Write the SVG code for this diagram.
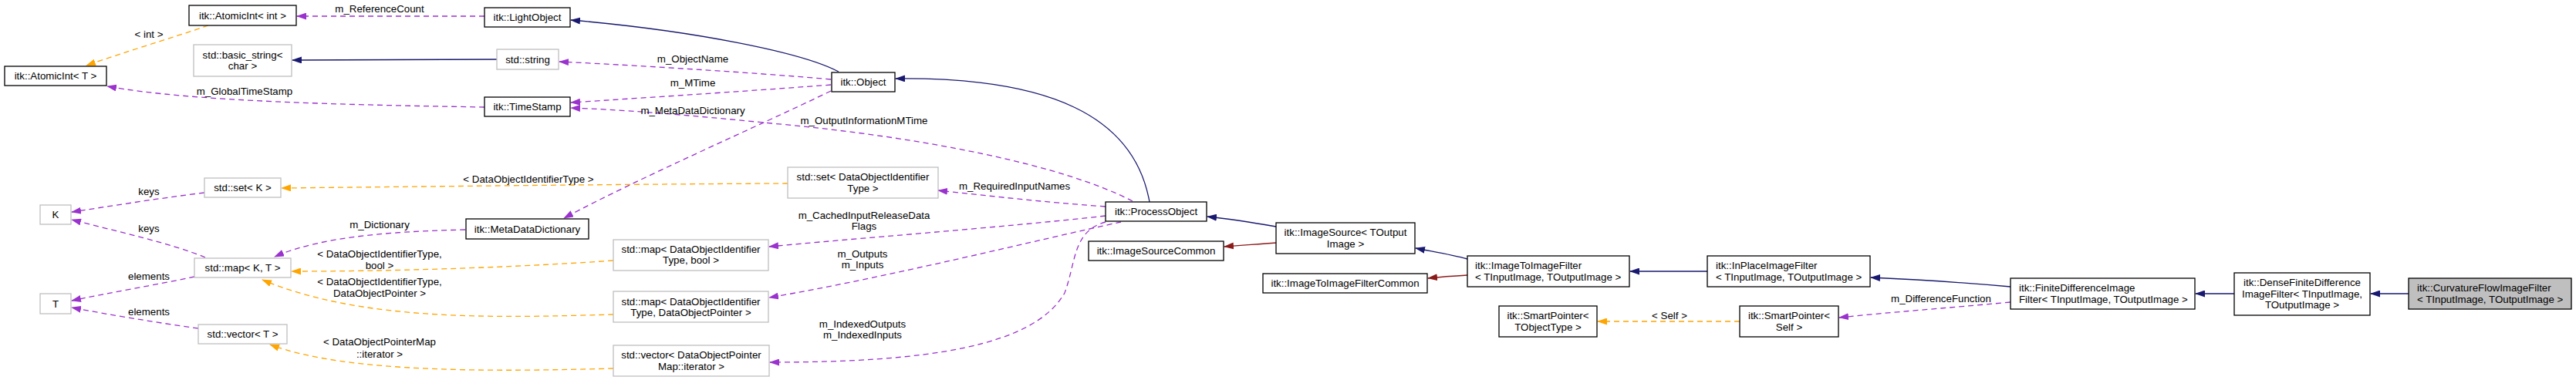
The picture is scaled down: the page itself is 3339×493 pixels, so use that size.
<svg xmlns="http://www.w3.org/2000/svg" width="3339" height="493" viewBox="0 0 3339 493">
<style>
text{font-family:"Liberation Sans",Arial,Helvetica,sans-serif;font-size:13.3px;fill:#000}
.m{text-anchor:middle}
.s{text-anchor:start}
.n{fill:#fff;stroke:#000;stroke-width:1.3}
.g{fill:#fff;stroke:#bfbfbf;stroke-width:1.3}
.sel{fill:#bfbfbf;stroke:#000;stroke-width:1.3}
.inh{fill:none;stroke:#191970;stroke-width:1.3;marker-end:url(#aInh)}
.prot{fill:none;stroke:#8b1a1a;stroke-width:1.3;marker-end:url(#aProt)}
.use{fill:none;stroke:#9a32cd;stroke-width:1.3;stroke-dasharray:7,5;marker-end:url(#aUse)}
.tpl{fill:none;stroke:#ffa500;stroke-width:1.3;stroke-dasharray:7,5;marker-end:url(#aTpl)}
</style>
<defs>
<marker id="aInh" viewBox="0 0 13 9" refX="12" refY="4.5" markerWidth="13" markerHeight="9" markerUnits="userSpaceOnUse" orient="auto"><path d="M0,0 L13,4.5 L0,9 z" fill="#191970"/></marker>
<marker id="aProt" viewBox="0 0 13 9" refX="12" refY="4.5" markerWidth="13" markerHeight="9" markerUnits="userSpaceOnUse" orient="auto"><path d="M0,0 L13,4.5 L0,9 z" fill="#8b1a1a"/></marker>
<marker id="aUse" viewBox="0 0 13 9" refX="12" refY="4.5" markerWidth="13" markerHeight="9" markerUnits="userSpaceOnUse" orient="auto"><path d="M0,0 L13,4.5 L0,9 z" fill="#9a32cd"/></marker>
<marker id="aTpl" viewBox="0 0 13 9" refX="12" refY="4.5" markerWidth="13" markerHeight="9" markerUnits="userSpaceOnUse" orient="auto"><path d="M0,0 L13,4.5 L0,9 z" fill="#ffa500"/></marker>
</defs>
<rect width="3339" height="493" fill="#fff"/>

<g id="connectors">
<path class="tpl" d="M270,33 C220,50 160,68 112,85"/>
<text class="m" x="193" y="49">&lt; int &gt;</text>
<path class="use" d="M628,21 L385,21"/>
<text class="m" x="492" y="16">m_ReferenceCount</text>
<path class="inh" d="M1087,93 C1040,68 900,40 740,26"/>
<path class="inh" d="M644,77 L379,78"/>
<path class="use" d="M628,139 C450,136 250,132 139,112"/>
<text class="m" x="317" y="123">m_GlobalTimeStamp</text>
<path class="use" d="M1077,103 C1000,96 850,86 725,80"/>
<text class="m" x="898" y="81">m_ObjectName</text>
<path class="use" d="M1077,110 C1000,116 850,126 740,133"/>
<text class="m" x="898" y="112">m_MTime</text>
<path class="use" d="M1468,261 C1380,215 1200,178 1000,160 C880,148 800,142 740,140"/>
<text class="m" x="1120" y="161">m_OutputInformationMTime</text>
<path class="use" d="M1077,118 C980,165 830,230 731,283"/>
<text class="m" x="898" y="148">m_MetaDataDictionary</text>
<path class="inh" d="M1490,262 C1470,150 1360,100 1161,102"/>
<path class="use" d="M603,298 C520,300 420,305 356,333"/>
<text class="m" x="492" y="296">m_Dictionary</text>
<path class="use" d="M265,250 C200,258 140,268 93,275"/>
<text class="m" x="193" y="253">keys</text>
<path class="use" d="M266,334 C220,315 150,300 93,285"/>
<text class="m" x="193" y="301">keys</text>
<path class="use" d="M252,359 C200,370 140,380 93,390"/>
<text class="m" x="193" y="363">elements</text>
<path class="use" d="M257,426 C200,418 140,408 93,399"/>
<text class="m" x="193" y="409">elements</text>
<path class="tpl" d="M1021,238 C800,239 550,242 365,244"/>
<text class="m" x="685" y="237">&lt; DataObjectIdentifierType &gt;</text>
<path class="use" d="M1433,268 C1350,262 1290,255 1216,247"/>
<text class="m" x="1315" y="246">m_RequiredInputNames</text>
<path class="use" d="M1433,280 C1300,295 1100,310 997,320"/>
<text class="m" x="1120" y="284">m_CachedInputReleaseData</text>
<text class="m" x="1120" y="298">Flags</text>
<path class="use" d="M1453,288 C1350,310 1150,360 997,386"/>
<text class="m" x="1118" y="334">m_Outputs</text>
<text class="m" x="1118" y="348">m_Inputs</text>
<path class="use" d="M1433,288 C1390,300 1395,340 1380,380 C1340,450 1200,470 998,470"/>
<text class="m" x="1118" y="425">m_IndexedOutputs</text>
<text class="m" x="1118" y="439">m_IndexedInputs</text>
<path class="tpl" d="M795,338 C650,348 500,352 378,352"/>
<text class="m" x="492" y="334">&lt; DataObjectIdentifierType,</text>
<text class="m" x="492" y="349">bool &gt;</text>
<path class="tpl" d="M795,408 C650,412 470,418 340,363"/>
<text class="m" x="492" y="370">&lt; DataObjectIdentifierType,</text>
<text class="m" x="492" y="385">DataObjectPointer &gt;</text>
<path class="tpl" d="M795,478 C650,482 450,485 350,447"/>
<text class="m" x="492" y="448">&lt; DataObjectPointerMap</text>
<text class="m" x="492" y="464">::iterator &gt;</text>
<path class="inh" d="M1654,294 C1620,288 1595,284 1565,281"/>
<path class="prot" d="M1654,315 C1630,317 1610,318 1587,320"/>
<path class="inh" d="M1902,336 C1880,330 1860,327 1835,322"/>
<path class="prot" d="M1902,357 C1885,358 1870,359 1851,361"/>
<path class="inh" d="M2213,352 L2113,352"/>
<path class="inh" d="M2606,372 C2540,366 2470,362 2425,360"/>
<path class="use" d="M2606,392 C2520,400 2450,405 2384,412"/>
<text class="m" x="2516" y="392">m_DifferenceFunction</text>
<path class="tpl" d="M2255,417 L2071,417"/>
<text class="m" x="2164" y="414">&lt; Self &gt;</text>
<path class="inh" d="M2896,381 L2846,381"/>
<path class="inh" d="M3122,381 L3073,381"/>
</g>

<g id="n_atomicint_int"><rect class="n" x="245" y="7" width="139" height="26"/><text class="m" x="314.5" y="25">itk::AtomicInt&lt; int &gt;</text></g>
<g id="n_lightobject"><rect class="n" x="628" y="10" width="111" height="25"/><text class="m" x="683.5" y="27">itk::LightObject</text></g>
<g id="n_basic_string"><rect class="g" x="251" y="58" width="127" height="41"/><text class="m" x="314.5" y="76">std::basic_string&lt;</text><text class="m" x="314.5" y="90">char &gt;</text></g>
<g id="n_string"><rect class="g" x="644" y="64" width="80" height="26"/><text class="m" x="684" y="82">std::string</text></g>
<g id="n_atomicint_t"><rect class="n" x="6" y="86" width="132" height="25"/><text class="m" x="72" y="103">itk::AtomicInt&lt; T &gt;</text></g>
<g id="n_timestamp"><rect class="n" x="628" y="126" width="111" height="25"/><text class="m" x="683.5" y="143">itk::TimeStamp</text></g>
<g id="n_set_k"><rect class="g" x="265" y="231" width="99" height="25"/><text class="m" x="314.5" y="248">std::set&lt; K &gt;</text></g>
<g id="n_k"><rect class="g" x="52" y="266" width="40" height="25"/><text class="m" x="72" y="283">K</text></g>
<g id="n_metadatadictionary"><rect class="n" x="604" y="284" width="159" height="26"/><text class="m" x="683.5" y="302">itk::MetaDataDictionary</text></g>
<g id="n_map_kt"><rect class="g" x="252" y="335" width="125" height="25"/><text class="m" x="314.5" y="352">std::map&lt; K, T &gt;</text></g>
<g id="n_t"><rect class="g" x="52" y="381" width="40" height="26"/><text class="m" x="72" y="399">T</text></g>
<g id="n_vector_t"><rect class="g" x="257" y="421" width="115" height="25"/><text class="m" x="314.5" y="438">std::vector&lt; T &gt;</text></g>
<g id="n_object"><rect class="n" x="1078" y="94" width="82" height="25"/><text class="m" x="1119" y="111">itk::Object</text></g>
<g id="n_set_doi"><rect class="g" x="1021" y="217" width="195" height="40"/><text class="m" x="1118.5" y="234">std::set&lt; DataObjectIdentifier</text><text class="m" x="1118.5" y="249">Type &gt;</text></g>
<g id="n_processobject"><rect class="n" x="1433" y="262" width="131" height="25"/><text class="m" x="1498.5" y="279">itk::ProcessObject</text></g>
<g id="n_imagesourcecommon"><rect class="n" x="1411" y="313" width="175" height="25"/><text class="m" x="1498.5" y="330">itk::ImageSourceCommon</text></g>
<g id="n_map_bool"><rect class="g" x="795" y="311" width="201" height="40"/><text class="m" x="895.5" y="328">std::map&lt; DataObjectIdentifier</text><text class="m" x="895.5" y="342">Type, bool &gt;</text></g>
<g id="n_map_dop"><rect class="g" x="795" y="378" width="201" height="40"/><text class="m" x="895.5" y="396">std::map&lt; DataObjectIdentifier</text><text class="m" x="895.5" y="410">Type, DataObjectPointer &gt;</text></g>
<g id="n_vector_iter"><rect class="g" x="795" y="448" width="202" height="40"/><text class="m" x="896" y="465">std::vector&lt; DataObjectPointer</text><text class="m" x="896" y="480">Map::iterator &gt;</text></g>
<g id="n_imagesource"><rect class="n" x="1654" y="289" width="180" height="40"/><text class="m" x="1744" y="306">itk::ImageSource&lt; TOutput</text><text class="m" x="1744" y="321">Image &gt;</text></g>
<g id="n_imagetoimagefilter"><rect class="n" x="1902" y="332" width="210" height="40"/><text class="s" x="1912" y="349">itk::ImageToImageFilter</text><text class="s" x="1912" y="364">&lt; TInputImage, TOutputImage &gt;</text></g>
<g id="n_imagetoimagefiltercommon"><rect class="n" x="1637" y="355" width="213" height="25"/><text class="m" x="1743.5" y="372">itk::ImageToImageFilterCommon</text></g>
<g id="n_inplaceimagefilter"><rect class="n" x="2213" y="332" width="211" height="40"/><text class="s" x="2224" y="349">itk::InPlaceImageFilter</text><text class="s" x="2224" y="364">&lt; TInputImage, TOutputImage &gt;</text></g>
<g id="n_smartpointer_tobj"><rect class="n" x="1943" y="397" width="127" height="40"/><text class="m" x="2006.5" y="414">itk::SmartPointer&lt;</text><text class="m" x="2006.5" y="429">TObjectType &gt;</text></g>
<g id="n_smartpointer_self"><rect class="n" x="2255" y="397" width="128" height="40"/><text class="m" x="2319" y="414">itk::SmartPointer&lt;</text><text class="m" x="2319" y="429">Self &gt;</text></g>
<g id="n_finitedifference"><rect class="n" x="2606" y="361" width="239" height="40"/><text class="s" x="2617" y="378">itk::FiniteDifferenceImage</text><text class="s" x="2617" y="393">Filter&lt; TInputImage, TOutputImage &gt;</text></g>
<g id="n_densefinitedifference"><rect class="n" x="2896" y="354" width="176" height="55"/><text class="m" x="2984" y="371">itk::DenseFiniteDifference</text><text class="m" x="2984" y="386">ImageFilter&lt; TInputImage,</text><text class="m" x="2984" y="400">TOutputImage &gt;</text></g>
<g id="n_curvatureflow"><rect class="sel" x="3122" y="361" width="211" height="40"/><text class="s" x="3133" y="378">itk::CurvatureFlowImageFilter</text><text class="s" x="3133" y="393">&lt; TInputImage, TOutputImage &gt;</text></g>
</svg>
